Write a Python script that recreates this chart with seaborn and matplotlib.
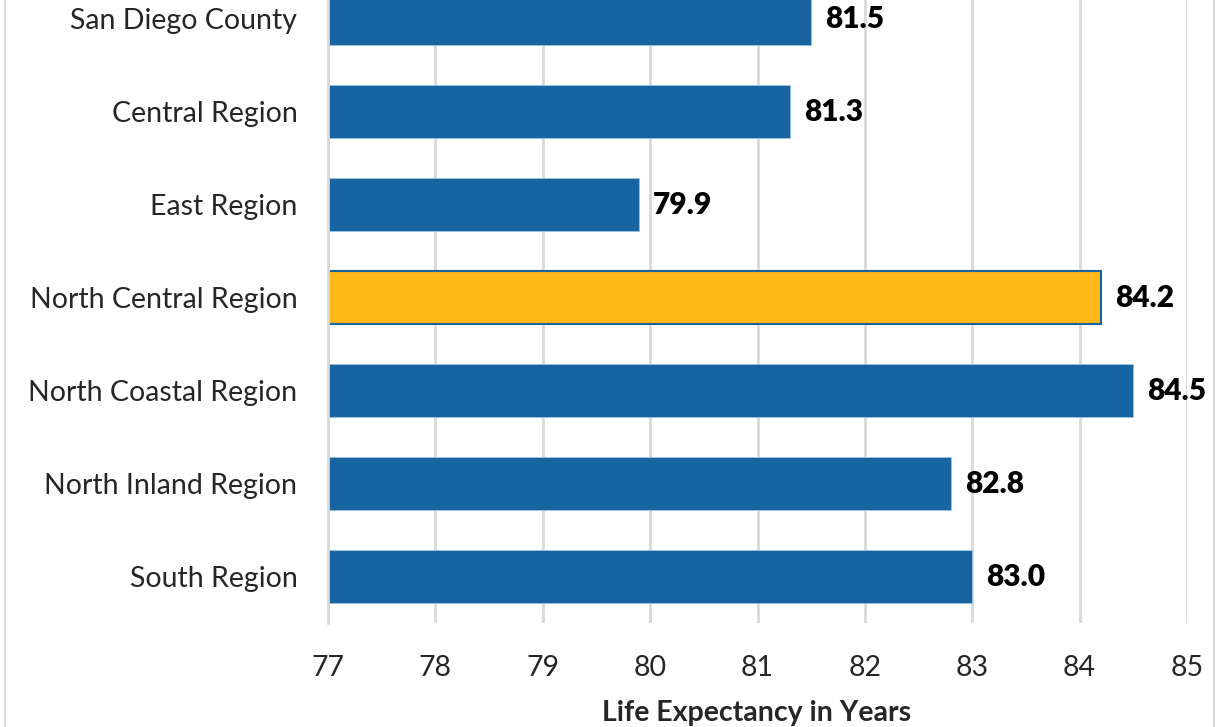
"""
life expectancy by region, horizontal bars
"""

import matplotlib.pyplot as plt
import pandas as pd
import seaborn as sns
from matplotlib.patches import Rectangle

# data
regions = [
    "San Diego County",
    "Central Region",
    "East Region",
    "North Central Region",
    "North Coastal Region",
    "North Inland Region",
    "South Region",
]
lifeExpectancy = [81.5, 81.3, 79.9, 84.2, 84.5, 82.8, 83.0]
highlight = "North Central Region"
xTicks = [77, 78, 79, 80, 81, 82, 83, 84, 85]

blue = "#1764A0"
gold = "#FCB918"
grid = "#D9D9D9"

df = pd.DataFrame({"region": regions, "years": lifeExpectancy})
df["group"] = ["hi" if r == highlight else "base" for r in df.region]

sns.set_theme(style="white")
plt.rcParams["font.family"] = ["Lato", "DejaVu Sans"]

fig = plt.figure(figsize=(12.21, 7.27), dpi=100)
# plot area runs off the top edge, like the cropped source
ax = fig.add_axes([328 / 1221, 1 - 623 / 727, (1187 - 328) / 1221, (623 + 27.5) / 727])

sns.barplot(
    data=df,
    x="years",
    y="region",
    hue="group",
    palette={"base": blue, "hi": gold},
    saturation=1,
    order=regions,
    orient="h",
    width=0.57,
    legend=False,
    ax=ax,
)
hiIdx = regions.index(highlight)
for bar in ax.patches:
    if round(bar.get_y() + bar.get_height() / 2) == hiIdx:
        bar.set_edgecolor(blue)
        bar.set_linewidth(1.5)
    else:
        bar.set_edgecolor("#9DC3E6")
        bar.set_linewidth(0.6)

ax.set_xlim(77, 85)
ax.set_ylim(len(regions) - 0.5, -0.5)
ax.set_xticks(xTicks)
ax.set_xticklabels([str(t) for t in xTicks], fontsize=20.5)
ax.tick_params(axis="y", labelsize=20.5, length=0, pad=22)
ax.tick_params(axis="x", length=0, pad=23)
ax.xaxis.grid(True, color=grid, linewidth=2)
ax.set_axisbelow(True)
for s in ["top", "right", "bottom"]:
    ax.spines[s].set_visible(False)
ax.spines["left"].set_color(grid)
ax.spines["left"].set_linewidth(2)
ax.set_ylabel("")
ax.set_xlabel("Life Expectancy in Years", fontsize=20.5, fontweight="bold")
ax.xaxis.set_label_coords(0.499, -0.118)

for i, v in enumerate(lifeExpectancy):
    ax.text(v + 0.13, i, f"{v:.1f}", va="center", ha="left",
            fontsize=21.5, fontweight="heavy", color="black")

fig.patches.append(Rectangle((0.004, -0.01), 0.99, 1.02, transform=fig.transFigure,
                             fill=False, edgecolor=grid, linewidth=1.5))

fig.savefig("out.png", dpi=100)
